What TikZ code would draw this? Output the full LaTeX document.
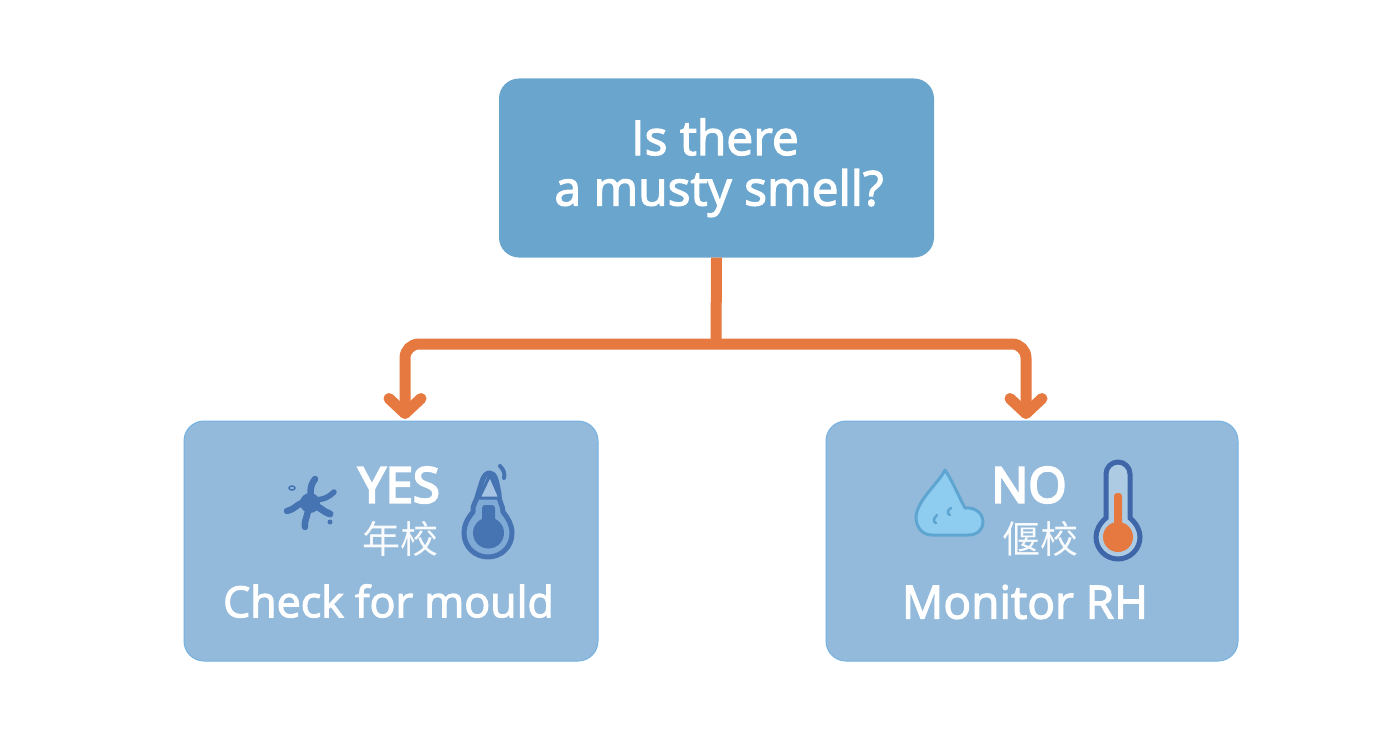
\documentclass[tikz,border=0pt]{standalone}
\usepackage{fontspec}
\setmainfont{Open Sans}
\newfontfamily\labelfont[FakeBold=2.5]{Open Sans}
\newfontfamily\yesfont[FakeBold=4.5]{Open Sans}
\newfontfamily\cjkfont{Noto Sans CJK SC}
\usetikzlibrary{arrows.meta}
\definecolor{topfill}{HTML}{6AA5CE}
\definecolor{lowfill}{HTML}{93BADB}
\definecolor{lowedge}{HTML}{74B2E2}
\definecolor{linkcol}{HTML}{E6793F}
\definecolor{deepblue}{HTML}{4673B2}
\definecolor{ringblue}{HTML}{7FAAD6}
\definecolor{dropfill}{HTML}{8FCDF0}
\definecolor{dropedge}{HTML}{5FA5D2}
\definecolor{tubeedge}{HTML}{3F66A8}
\tikzset{
  x=1pt,y=-1pt,
  topbox/.style={draw=none,fill=topfill,rounded corners=20pt,minimum width=435pt,minimum height=179pt,inner sep=0pt},
  lowbox/.style={draw=lowedge,line width=1pt,fill=lowfill,rounded corners=20pt,minimum height=240pt,inner sep=0pt},
  bigtxt/.style={text=white,font=\labelfont\fontsize{48}{56}\selectfont,align=center,inner sep=0pt},
  mainlab/.style={text=white,font=\labelfont\fontsize{43}{50}\selectfont,inner sep=0pt},
  anslab/.style={text=white,font=\yesfont\fontsize{49}{56}\selectfont,inner sep=0pt},
  cjklab/.style={text=white!95!lowfill,font=\cjkfont\fontsize{38}{44}\selectfont,inner sep=0pt},
  link/.style={draw=linkcol,line width=11pt,rounded corners=14pt},
  linktip/.style={link,-{Straight Barb[length=15pt,width=32pt,line cap=round,round]}},
  iconline/.style={draw=deepblue,line width=3.5pt,line cap=round,line join=round},
}
\begin{document}
\begin{tikzpicture}
\useasboundingbox (0,0) rectangle (1392,752);
\fill[white] (0,0) rectangle (1392,752);

\node[topbox] (q) at (716.5,168) {};
\node[lowbox,minimum width=414pt] (yes) at (391,541) {};
\node[lowbox,minimum width=412pt] (no) at (1032,541) {};

\node[bigtxt] (qa) at (715,137) {Is there};
\node[bigtxt] (qb) at (719,193) {a musty smell?};

\coordinate (j) at (716,344);
\coordinate (la) at (405,344);
\coordinate (ra) at (1026,344);
\coordinate (lb) at (405,419);
\coordinate (rb) at (1026,419);
\draw[link] (q.south) -- (j);
\draw[linktip] (j) -- (la) -- (lb);
\draw[linktip] (j) -- (ra) -- (rb);

\node[anslab] (ya) at (399,485) {YES};
\node[cjklab] (yb) at (400,539) {年校};
\node[mainlab] (yc) at (388.5,601) {Check for mould};
\node[anslab] (na) at (1029,485) {NO};
\node[cjklab] (nb) at (1040,539) {偃校};
\node[mainlab,font=\labelfont\fontsize{46}{50}\selectfont] (nc) at (1025,602) {Monitor RH};

% mould star
\fill[deepblue] (310,503) circle (10pt);
\draw[iconline,line width=6.5pt] (310,503) .. controls (312,494) and (308,488) .. (315,479);
\draw[iconline,line width=5.5pt] (312,501) .. controls (320,499) and (326,500) .. (334,492);
\draw[iconline,line width=7pt] (312,505) .. controls (320,506) and (323,512) .. (330,514);
\draw[iconline,line width=6.5pt] (308,505) .. controls (310,513) and (304,518) .. (305,527);
\draw[iconline,line width=6.5pt] (308,502) .. controls (299,501) and (296,509) .. (287,511);
\draw[deepblue,line width=1.5pt] (292,488) ellipse (3pt and 2pt);
\fill[deepblue] (330,522) circle (2.5pt);

% bulb / nozzle icon
\draw[iconline,fill=ringblue,line width=5pt] (490,473) .. controls (483,473) and (482,482) .. (478,494)
  .. controls (476,503) and (472,505) .. (473,512)
  .. controls (466,520) and (464,527) .. (464,533)
  .. controls (464,547) and (475,557) .. (488,557)
  .. controls (501,557) and (512,547) .. (512,533)
  .. controls (512,525) and (508,518) .. (503,512)
  .. controls (503,505) and (499,503) .. (499,494)
  .. controls (497,484) and (496,473) .. (490,473) -- cycle;
\draw[iconline,fill=ringblue!70!white,line width=3pt] (490,475) -- (479,498) -- (500,498) -- cycle;
\fill[deepblue,rounded corners=3pt] (482,505) rectangle (495,528);
\fill[deepblue] (488.5,533) circle (15.5pt);
\draw[iconline,line width=4pt] (500,466) .. controls (504,470) and (505,474) .. (504,478);

% droplet
\draw[draw=dropedge,fill=dropfill,line width=3pt,line join=round]
  (945,470) .. controls (938,484) and (917,500) .. (916,517)
  .. controls (916,528) and (923,535) .. (932,535)
  -- (968,535) .. controls (978,535) and (983,529) .. (983,522)
  .. controls (983,514) and (976,507) .. (965,508)
  .. controls (958,495) and (952,480) .. (945,470) -- cycle;
\draw[dropedge,line width=2.5pt,line cap=round] (937,515) .. controls (933,519) and (933,522) .. (936,523);
\draw[dropedge,line width=2.5pt,line cap=round] (951,508) .. controls (947,510) and (947,514) .. (950,515);

% thermometer
\draw[draw=tubeedge,fill=lowfill!75!white,line width=5pt]
  (1106,518) -- (1106,474) arc[start angle=180,end angle=0,radius=12pt]
  -- (1130,518) .. controls (1137,524) and (1140,531) .. (1140,537)
  arc[start angle=0,end angle=-180,radius=22pt]
  .. controls (1096,531) and (1099,524) .. (1106,518) -- cycle;
\fill[linkcol,rounded corners=3pt] (1114,493) rectangle (1122,528);
\fill[linkcol] (1118,537) circle (15pt);
\end{tikzpicture}
\end{document}
